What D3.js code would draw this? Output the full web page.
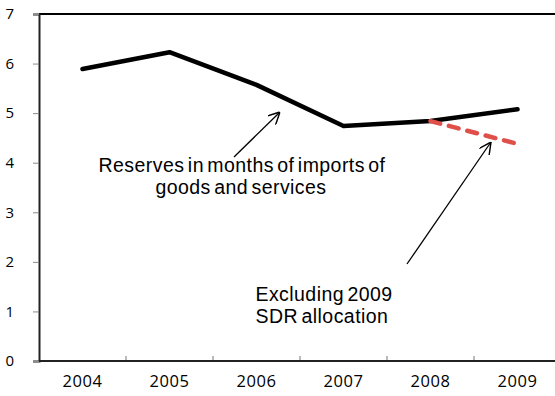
<!DOCTYPE html>
<html><head><meta charset="utf-8">
<script src="https://cdn.jsdelivr.net/npm/d3@7"></script>
<style>body{margin:0;background:#fff}svg{display:block}</style>
</head><body>
<script>
const years = ["2004","2005","2006","2007","2008","2009"];
const reserves = [5.89, 6.23, 5.57, 4.74, 4.84, 5.08];
const exclSDRYears = ["2008","2009"];
const exclSDR = [4.84, 4.38];
const yTicks = [0,1,2,3,4,5,6,7];

const W=555,H=396;
const svg=d3.select("body").append("svg").attr("width",W).attr("height",H);
const x=d3.scaleBand().domain(years).range([39,561]);
const y=d3.scaleLinear().domain([0,7]).range([361,14]);
const font="Arial, 'Liberation Sans', sans-serif";
const tfont="'Open Sans', sans-serif";

// top border
svg.append("line").attr("x1",39).attr("x2",W).attr("y1",y(7)).attr("y2",y(7)).attr("stroke","#000").attr("stroke-width",2);

// y axis
const ya=svg.append("g").attr("transform","translate(39,0)").call(d3.axisLeft(y).tickValues(yTicks).tickFormat(d3.format("d")).tickSize(6).tickPadding(19));
ya.select(".domain").attr("stroke","#222").attr("stroke-width",2);
ya.selectAll(".tick line").attr("stroke","#888");
ya.selectAll("text").attr("font-family",tfont).attr("font-size",15).attr("fill","#000");

// x axis
const xa=svg.append("g").attr("transform","translate(0,361)").call(d3.axisBottom(x).tickSize(0).tickPadding(14));
xa.select(".domain").remove();
svg.append("line").attr("x1",39).attr("x2",W).attr("y1",361).attr("y2",361).attr("stroke","#222").attr("stroke-width",2);
xa.selectAll("text").attr("font-family",tfont).attr("font-size",16.5).attr("letter-spacing",0.6).attr("fill","#000");
svg.append("g").selectAll("line").data(years).join("line")
  .attr("x1",d=>x(d)+x.bandwidth()).attr("x2",d=>x(d)+x.bandwidth())
  .attr("y1",360).attr("y2",356).attr("stroke","#777");

const cx=d=>x(d)+x.bandwidth()/2;
const line=d3.line().x(d=>cx(d[0])).y(d=>y(d[1]));
svg.append("path").datum(years.map((d,i)=>[d,reserves[i]])).attr("d",line)
  .attr("fill","none").attr("stroke","#000").attr("stroke-width",4.5).attr("stroke-linecap","round").attr("stroke-linejoin","round");
svg.append("path").datum(exclSDRYears.map((d,i)=>[d,exclSDR[i]])).attr("d",line)
  .attr("fill","none").attr("stroke","#e0504a").attr("stroke-width",4.5).attr("stroke-linecap","round").attr("stroke-dasharray","10 9");

// arrows
const defs=svg.append("defs");
defs.append("marker").attr("id","ah").attr("viewBox","0 0 10 10").attr("refX",10).attr("refY",5)
  .attr("markerWidth",12).attr("markerHeight",12).attr("markerUnits","userSpaceOnUse").attr("orient","auto")
  .append("path").attr("d","M0,0 L10,5 L0,10").attr("fill","none").attr("stroke","#000").attr("stroke-width",1.2);
svg.append("line").attr("x1",234).attr("y1",157).attr("x2",280).attr("y2",112).attr("stroke","#000").attr("stroke-width",1.3).attr("marker-end","url(#ah)");
svg.append("line").attr("x1",407).attr("y1",264).attr("x2",491).attr("y2",142).attr("stroke","#000").attr("stroke-width",1.3).attr("marker-end","url(#ah)");

// annotations
const t1=svg.append("text").attr("font-family",font).attr("font-size",19.5).attr("text-anchor","middle").attr("letter-spacing",0.45).attr("word-spacing",-2.5);
t1.append("tspan").attr("x",242).attr("y",172).text("Reserves in months of imports of");
t1.append("tspan").attr("x",241).attr("y",194).text("goods and services");
const t2=svg.append("text").attr("font-family",font).attr("font-size",19.5).attr("text-anchor","middle").attr("letter-spacing",0.45).attr("word-spacing",-2.5);
t2.append("tspan").attr("x",324).attr("y",301).text("Excluding 2009");
t2.append("tspan").attr("x",322).attr("y",323).text("SDR allocation");
</script>
</body></html>
